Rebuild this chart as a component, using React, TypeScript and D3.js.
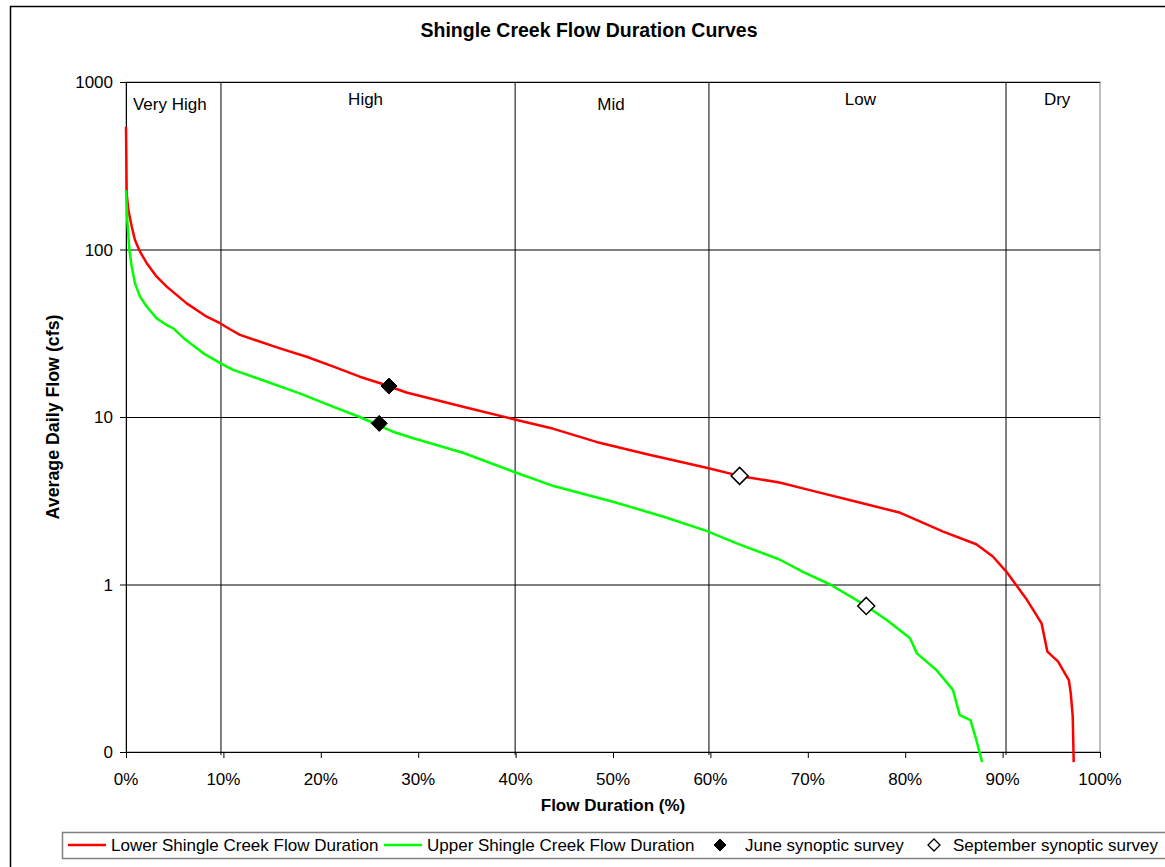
import React from "react";
import * as d3 from "d3";

// ---- data ----
const lowerPct = [0, 0.07, 0.24, 0.59, 0.92, 1.44, 2.13, 3.15, 4.18, 6.23, 8.29, 9.65, 10.68, 11.7, 15.8, 18.55, 21.3, 24.0, 26.1, 28.8, 34.6, 39.8, 43.9, 48.3, 53.5, 59.6, 63.0, 67.1, 70.2, 75.0, 79.5, 83.9, 87.3, 89.0, 90.4, 92.5, 94.0, 94.6, 95.7, 96.8, 97.0, 97.2, 97.3];
const lowerFlow = [538, 216, 172, 137, 114, 97, 82.8, 68.8, 60, 47.7, 39.7, 36.3, 33.4, 30.9, 25.7, 22.9, 20, 17.4, 15.9, 14.0, 11.5, 9.7, 8.5, 7.1, 6.0, 4.98, 4.45, 4.06, 3.66, 3.12, 2.68, 2.07, 1.74, 1.47, 1.19, 0.81, 0.586, 0.397, 0.346, 0.269, 0.224, 0.163, 0.087];

const upperPct = [0, 0.13, 0.34, 0.59, 0.92, 1.44, 2.13, 3.15, 4.18, 4.86, 6.06, 7.94, 9.72, 11.0, 14.4, 17.9, 21.3, 24.0, 27.4, 29.5, 34.6, 39.8, 43.9, 50.0, 55.2, 59.6, 62.7, 67.1, 69.5, 72.3, 76.0, 78.1, 80.5, 81.2, 83.2, 84.9, 85.6, 86.7, 87.3, 87.9];
const upperFlow = [226, 150, 100, 78.9, 62.8, 52.3, 45.5, 38.8, 35.4, 33.8, 29.1, 24, 20.9, 19.1, 16.3, 13.8, 11.5, 10.0, 8.17, 7.47, 6.12, 4.71, 3.87, 3.12, 2.54, 2.09, 1.76, 1.41, 1.19, 1.0, 0.745, 0.614, 0.478, 0.388, 0.309, 0.235, 0.166, 0.155, 0.118, 0.087];

const junePct = [27.0, 26.0];
const juneFlow = [15.3, 9.16];
const septPct = [63.0, 76.0];
const septFlow = [4.45, 0.745];

const zoneBoundaries = [9.7, 39.9, 59.8, 90.3];
const zoneNames = ["Very High", "High", "Mid", "Low", "Dry"];
const zoneLabelPct = [4.5, 24.6, 49.8, 75.4, 95.6];
const zoneLabelFlow = [740, 790, 740, 790, 790];

const xTicks = [0, 10, 20, 30, 40, 50, 60, 70, 80, 90, 100];
const xTickLabels = ["0%", "10%", "20%", "30%", "40%", "50%", "60%", "70%", "80%", "90%", "100%"];
const yTicks = [1000, 100, 10, 1, 0.1];
const yTickLabels = ["1000", "100", "10", "1", "0"];

const legendLabels = [
  "Lower Shingle Creek Flow Duration",
  "Upper Shingle Creek Flow Duration",
  "June synoptic survey",
  "September synoptic survey",
];

const FONT = "'Liberation Sans', Arial, sans-serif";

export default function App() {
  const W = 1165;
  const H = 867;
  const x = d3.scaleLinear().domain([0, 100]).range([126, 1100]);
  const y = d3.scaleLog().domain([0.1, 1000]).range([752, 82]);
  const [x0, x1] = x.range();
  const [yb, yt] = y.range();

  const line = d3
    .line<[number, number]>()
    .x((d) => x(d[0]))
    .y((d) => y(d[1]));

  const lower: [number, number][] = lowerPct.map((p, i) => [p, lowerFlow[i]]);
  const upper: [number, number][] = upperPct.map((p, i) => [p, upperFlow[i]]);

  const diamond = (cx: number, cy: number, r: number) =>
    `M${cx},${cy - r}L${cx + r},${cy}L${cx},${cy + r}L${cx - r},${cy}Z`;

  // legend layout
  const legY = 845;
  const legItems = [
    { kind: "line", color: "#FF0000", sx: 68, tx: 111 },
    { kind: "line", color: "#00FF00", sx: 384, tx: 427 },
    { kind: "filled", sx: 720, tx: 745 },
    { kind: "open", sx: 934, tx: 953 },
  ];

  return (
    <svg
      width={W}
      height={H}
      style={{ position: "absolute", left: 0, top: 0, background: "#fff" }}
      fontFamily={FONT}
    >
      <rect x={0} y={0} width={W} height={H} fill="#fff" />
      {/* outer frame */}
      <rect x={10.5} y={6.5} width={1170} height={880} fill="none" stroke="#000" strokeWidth={1.5} />

      {/* title */}
      <text x={589} y={37} textAnchor="middle" fontSize={19.5} fontWeight="bold">
        Shingle Creek Flow Duration Curves
      </text>

      {/* plot area border */}
      <rect x={x0} y={yt} width={x1 - x0} height={yb - yt} fill="none" stroke="#808080" strokeWidth={1} />

      {/* horizontal gridlines */}
      {yTicks.slice(0, 4).map((v) => (
        <line key={"g" + v} x1={x0} x2={x1} y1={y(v) + 0.5} y2={y(v) + 0.5} stroke="#000" strokeWidth={1} />
      ))}

      {/* zone boundaries */}
      {zoneBoundaries.map((p) => (
        <line key={"z" + p} x1={x(p) + 0.5} x2={x(p) + 0.5} y1={yt} y2={yb + 3} stroke="#000" strokeWidth={1} />
      ))}

      {/* zone labels */}
      {zoneNames.map((n, i) => (
        <text key={n} x={x(zoneLabelPct[i])} y={y(zoneLabelFlow[i]) + 6} textAnchor="middle" fontSize={17}>
          {n}
        </text>
      ))}

      {/* axes */}
      <line x1={x0} x2={x1} y1={yb + 0.5} y2={yb + 0.5} stroke="#000" strokeWidth={1} />
      <line x1={x0 + 0.5} x2={x0 + 0.5} y1={yt} y2={yb} stroke="#000" strokeWidth={1} />
      {xTicks.map((t, i) => (
        <g key={"xt" + t}>
          <line x1={x(t) + 0.5} x2={x(t) + 0.5} y1={yb} y2={yb + 6} stroke="#000" />
          <text x={x(t)} y={785} textAnchor="middle" fontSize={17}>
            {xTickLabels[i]}
          </text>
        </g>
      ))}
      {yTicks.map((t, i) => (
        <g key={"yt" + t}>
          <line x1={x0 - 6} x2={x0} y1={y(t) + 0.5} y2={y(t) + 0.5} stroke="#000" />
          <text x={113} y={y(t) + 6} textAnchor="end" fontSize={17}>
            {yTickLabels[i]}
          </text>
        </g>
      ))}

      {/* axis titles */}
      <text x={613} y={811} textAnchor="middle" fontSize={17} fontWeight="bold">
        Flow Duration (%)
      </text>
      <text
        transform={`translate(59,${(yt + yb) / 2}) rotate(-90)`}
        textAnchor="middle"
        fontSize={17.8}
        fontWeight="bold"
      >
        Average Daily Flow (cfs)
      </text>

      {/* curves */}
      <path d={line(lower) || ""} fill="none" stroke="#FF0000" strokeWidth={2.5} strokeLinejoin="round" />
      <path d={line(upper) || ""} fill="none" stroke="#00FF00" strokeWidth={2.5} strokeLinejoin="round" />

      {/* survey markers */}
      {junePct.map((p, i) => (
        <path key={"j" + i} d={diamond(x(p), y(juneFlow[i]), 8)} fill="#000" stroke="#000" strokeWidth={1} />
      ))}
      {septPct.map((p, i) => (
        <path key={"s" + i} d={diamond(x(p), y(septFlow[i]), 8.5)} fill="#fff" stroke="#000" strokeWidth={1.5} />
      ))}

      {/* legend */}
      <rect x={62.5} y={832.5} width={1120} height={26} fill="#fff" stroke="#808080" strokeWidth={1.5} />
      {legItems.map((it, i) => (
        <g key={"l" + i}>
          {it.kind === "line" && (
            <line x1={it.sx} x2={it.sx + 38} y1={legY} y2={legY} stroke={it.color} strokeWidth={2.5} />
          )}
          {it.kind === "filled" && <path d={diamond(it.sx, legY, 6)} fill="#000" stroke="#000" />}
          {it.kind === "open" && <path d={diamond(it.sx, legY, 6)} fill="#fff" stroke="#000" strokeWidth={1.3} />}
          <text x={it.tx} y={legY + 6} fontSize={17}>
            {legendLabels[i]}
          </text>
        </g>
      ))}
    </svg>
  );
}
